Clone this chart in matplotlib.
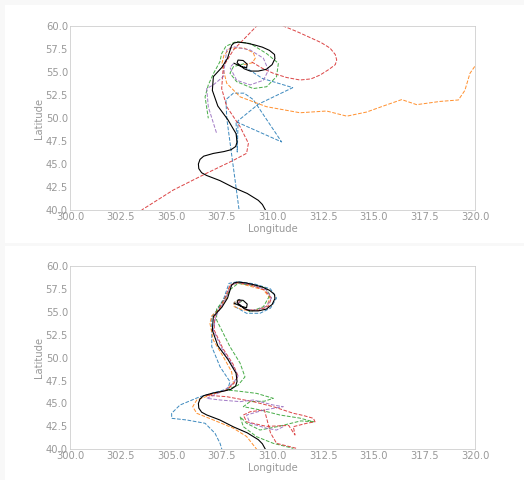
import numpy as np
import matplotlib
matplotlib.use("Agg")
from matplotlib import pyplot as plt
from matplotlib.patches import Rectangle

# observed track (lon, lat)
obs_lon = [309.65, 309.5, 309.3, 308.75, 308.07, 307.4, 306.75, 306.5, 306.36, 306.34,
           306.42, 306.6, 307.08, 307.6, 307.95, 308.18, 308.25, 308.2, 307.8, 307.3,
           307.03, 307.08, 307.5, 307.78, 307.98, 308.1, 308.3, 308.7, 309.1, 309.5,
           309.85, 310.1, 310.12, 309.98, 309.7, 309.3, 308.9, 308.6, 308.25, 308.3,
           308.55, 308.75, 308.72, 308.45, 308.1]
obs_lat = [40.0, 40.6, 41.05, 41.8, 42.45, 43.2, 43.75, 44.05, 44.5, 45.0,
           45.5, 45.85, 46.15, 46.35, 46.55, 46.9, 47.4, 48.3, 49.8, 51.3,
           53.0, 54.5, 55.5, 56.5, 57.9, 58.15, 58.25, 58.15, 57.95, 57.7,
           57.35, 56.9, 56.45, 55.8, 55.3, 55.1, 55.1, 55.35, 56.0, 56.3,
           56.25, 55.85, 55.45, 55.6, 55.95]

# forecasts from different models
fc_lon = {
    "C0": [308.6, 309.5, 311.0, 309.3, 308.3, 308.26, 308.2, 310.45, 309.05, 308.6,
           308.07, 307.7, 307.74, 308.35],
    "C1": [308.6, 309.0, 309.15, 309.05, 308.6, 307.9, 307.6, 307.5, 307.74, 308.4,
           309.7, 311.36, 312.67, 313.67, 314.65, 315.6, 316.38, 317.12, 318.27, 319.18,
           319.5, 319.75, 320.08],
    "C2": [308.6, 308.07, 307.9, 308.23, 309.05, 309.71, 310.2, 310.29, 309.71, 308.9,
           308.2, 307.7, 307.49, 307.4, 307.1, 306.83, 306.67, 306.83],
    "C3": [308.97, 309.5, 310.04, 310.7, 311.36, 311.9, 312.35, 312.8, 313.1, 313.17,
           313.1, 312.84, 312.4, 311.85, 311.2, 310.53, 309.9, 309.22, 308.07, 307.57,
           307.49, 307.74, 308.4, 308.81, 308.72, 308.07, 306.75, 305.1, 303.54],
    "C4": [308.07, 307.9, 308.23, 308.9, 309.55, 309.8, 309.55, 308.89, 308.07, 307.74,
           307.57, 307.08, 306.75, 306.83, 307.24],
}
fc_lat = {
    "C0": [55.6, 54.3, 53.3, 51.5, 49.7, 46.3, 49.6, 47.4, 52.0, 52.7,
           52.7, 52.0, 50.0, 40.0],
    "C1": [55.8, 56.0, 56.5, 57.1, 57.6, 57.6, 56.8, 55.9, 53.77, 52.3,
           51.23, 50.57, 50.76, 50.2, 50.65, 51.4, 52.0, 51.45, 51.8, 51.96,
           53.0, 54.85, 55.9],
    "C2": [55.9, 55.58, 54.86, 53.95, 53.2, 53.4, 54.5, 55.95, 57.0, 58.1,
           58.3, 57.8, 57.0, 56.1, 54.9, 53.6, 52.3, 49.97],
    "C3": [56.1, 55.4, 54.86, 54.4, 54.13, 54.25, 54.67, 55.3, 55.8, 56.3,
           56.9, 57.6, 58.2, 58.75, 59.4, 60.0, 60.8, 60.0, 57.4, 55.58,
           53.2, 51.23, 49.05, 47.25, 46.16, 45.4, 44.0, 42.17, 40.0],
    "C4": [55.9, 55.5, 54.1, 53.6, 54.1, 55.2, 56.5, 57.4, 57.75, 57.4,
           54.5, 53.6, 53.2, 51.2, 48.34],
}

# ensemble members
ens_lon = {
    "C0": [308.4, 308.15, 308.15, 308.72, 309.38, 309.9, 310.2, 309.9, 309.1, 308.3,
           307.85, 307.6, 307.3, 307.0, 307.0, 307.41, 307.9, 307.8, 306.42, 305.43,
           305.02, 305.02, 305.76, 306.67, 307.16, 307.41, 307.5],
    "C1": [308.4, 308.15, 308.07, 308.56, 309.2, 309.71, 309.88, 309.55, 308.3, 307.9,
           307.74, 307.4, 307.0, 306.91, 307.08, 307.57, 307.98, 308.07, 307.74, 306.91,
           306.26, 306.06, 306.26, 307.08, 308.07, 308.72, 309.22],
    "C2": [308.5, 308.3, 308.89, 309.55, 309.88, 309.6, 308.3, 307.95, 307.6, 307.24,
           307.24, 307.9, 308.4, 308.64, 308.3, 307.74, 308.3, 309.22, 310.04, 309.6,
           308.89, 308.56, 309.38, 310.37, 311.36, 312.02, 311.4, 310.3, 309.38, 308.72,
           308.4, 308.56, 309.22, 310.04, 311.03],
    "C3": [308.45, 308.25, 308.7, 309.3, 309.8, 309.95, 309.6, 308.9, 308.28, 307.9,
           307.65, 307.15, 307.12, 307.55, 308.05, 308.3, 308.1, 307.74, 306.75, 307.74,
           309.05, 310.04, 311.03, 311.5, 312.02, 312.1, 311.69, 311.03, 311.11, 310.8,
           309.7, 308.72, 308.56, 308.9, 309.6, 309.9, 310.2, 311.19],
    "C4": [308.45, 308.3, 308.7, 309.2, 309.7, 309.95, 309.7, 309.0, 308.3, 307.95,
           307.7, 307.2, 307.08, 307.5, 308.0, 308.3, 308.05, 307.6, 306.75, 307.41,
           308.4, 309.05, 310.04, 310.53, 309.6, 308.72, 308.89, 309.71, 310.2, 310.53],
}
ens_lat = {
    "C0": [56.37, 56.1, 55.56, 54.84, 54.84, 55.4, 56.5, 57.5, 58.05, 58.3,
           58.1, 56.5, 55.3, 54.47, 51.2, 49.0, 47.38, 46.6, 45.74, 44.83,
           43.93, 43.38, 43.2, 42.84, 41.75, 40.65, 40.0],
    "C1": [56.3, 56.1, 55.6, 55.2, 55.2, 55.6, 56.5, 57.4, 58.15, 57.9,
           56.5, 55.4, 54.55, 53.75, 51.9, 50.1, 48.47, 47.2, 46.5, 45.9,
           45.38, 44.65, 43.93, 43.2, 42.3, 41.4, 40.0],
    "C2": [56.2, 55.9, 55.0, 55.56, 56.84, 57.7, 58.1, 57.5, 56.3, 55.3,
           54.1, 51.2, 49.4, 47.9, 47.0, 46.47, 46.35, 46.1, 45.56, 45.25,
           45.2, 44.65, 44.3, 43.74, 43.4, 43.0, 43.1, 42.5, 42.1, 42.84,
           43.56, 42.47, 41.37, 40.65, 40.1],
    "C3": [56.2, 55.95, 55.2, 55.15, 55.6, 56.5, 57.4, 57.95, 58.2, 57.9,
           56.5, 54.5, 53.0, 51.0, 49.3, 48.0, 47.2, 46.45, 45.9, 45.74,
           45.2, 44.65, 43.93, 43.7, 43.38, 43.0, 42.84, 42.47, 41.56, 42.6,
           42.5, 43.0, 43.74, 44.1, 44.3, 41.8, 40.65, 40.1],
    "C4": [56.2, 55.95, 55.25, 55.2, 55.6, 56.5, 57.4, 57.95, 58.2, 57.9,
           56.5, 54.5, 53.0, 51.0, 49.3, 48.0, 47.2, 46.4, 45.56, 45.38,
           45.2, 45.38, 44.83, 44.65, 44.3, 43.74, 42.84, 42.3, 42.1, 42.47],
}

plt.rcParams['font.size'] = 10
fig = plt.figure(figsize=(524 / 72, 480 / 72), dpi=72, facecolor='#f8f8f8')
fig.patches.append(Rectangle((5 / 524, 1 - 243 / 480), 1, 238 / 480, transform=fig.transFigure,
                             facecolor='white', edgecolor='none', zorder=-1))
fig.patches.append(Rectangle((5 / 524, 0), 1, 234 / 480, transform=fig.transFigure,
                             facecolor='white', edgecolor='none', zorder=-1))

ax1 = fig.add_axes([70 / 524, 1 - 210 / 480, 405 / 524, 184 / 480])
ax2 = fig.add_axes([70 / 524, 1 - 449.3 / 480, 405 / 524, 183.3 / 480])

for c in fc_lon:
    ax1.plot(fc_lon[c], fc_lat[c], c=c, ls='--', lw=1, alpha=0.85)
ax1.plot(obs_lon, obs_lat, c='k', lw=1.1)

for c in ens_lon:
    ax2.plot(ens_lon[c], ens_lat[c], c=c, ls='--', lw=1, alpha=0.85)
ax2.plot(obs_lon, obs_lat, c='k', lw=1.1)

for ax in [ax1, ax2]:
    ax.set_xlim(300, 320)
    ax.set_ylim(40, 60)
    ax.set_xticks(np.arange(300, 320.1, 2.5))
    ax.set_yticks(np.arange(40, 60.1, 2.5))
    ax.set_facecolor('white')
    ax.tick_params(length=0, pad=2, colors='#999999', labelsize=10)
    for s in ax.spines.values():
        s.set_color('#cccccc')
    ax.set_xlabel("Longitude", color='#999999', labelpad=2)
    ax.set_ylabel("Latitude", color='#999999', labelpad=2)

fig.savefig('out.png', dpi=72, facecolor=fig.get_facecolor())
